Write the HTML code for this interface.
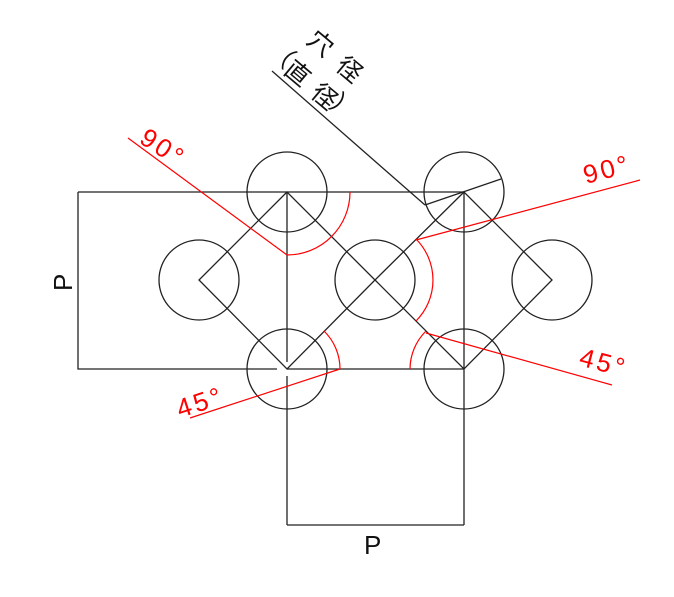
<!DOCTYPE html>
<html><head><meta charset="utf-8"><style>html,body{margin:0;padding:0;background:#fff}svg{display:block}</style></head>
<body>
<svg width="674" height="597" viewBox="0 0 674 597" xmlns="http://www.w3.org/2000/svg">
<g fill="none" stroke="#222" stroke-width="1.3">
<circle cx="287" cy="192" r="40"/>
<circle cx="464" cy="192" r="40"/>
<circle cx="199" cy="280" r="40"/>
<circle cx="375" cy="280" r="40"/>
<circle cx="552" cy="280" r="40"/>
<circle cx="287" cy="369" r="40"/>
<circle cx="464" cy="369" r="40"/>
<polyline points="78,192 464,192"/>
<polyline points="78,192 78,369 277,369"/>
<line x1="287" y1="369" x2="464" y2="369"/>
<line x1="287" y1="192" x2="287" y2="362"/>
<line x1="287" y1="376" x2="287" y2="525"/>
<line x1="464" y1="192" x2="464" y2="525"/>
<line x1="287" y1="525" x2="464" y2="525"/>
<polygon points="287,192 199,280 287,369 375,280"/>
<polygon points="464,192 375,280 464,369 552,280"/>
<line x1="425" y1="205" x2="501" y2="179"/>
<line x1="272" y1="71" x2="425" y2="205"/>
</g>
<g fill="none" stroke="#f00" stroke-width="1.2">
<line x1="128" y1="138" x2="287" y2="255"/>
<path d="M287,255 A63,63 0 0 0 350,192"/>
<path d="M416,239 A58,58 0 0 1 416,321"/>
<line x1="416" y1="240" x2="640" y2="180"/>
<path d="M340,369 A53,53 0 0 0 324,331"/>
<line x1="340" y1="369" x2="190" y2="418"/>
<path d="M410,369 A54,54 0 0 1 426,331"/>
<line x1="426" y1="333" x2="612" y2="385"/>
</g>
<g fill="#f00" font-family="Liberation Sans, sans-serif" font-size="26" letter-spacing="3">
<text transform="translate(138,142) rotate(33)">90°</text>
<text transform="translate(586,184) rotate(-15)">90°</text>
<text transform="translate(180,418) rotate(-18)">45°</text>
<text transform="translate(578,365) rotate(15)">45°</text>
</g>
<g fill="#111" font-family="Liberation Sans, sans-serif" font-size="26">
<text transform="translate(72,291) rotate(-90)">P</text>
<text x="364" y="554">P</text>
</g>
<g fill="#111" font-family="Liberation Sans, 'Noto Sans CJK JP', sans-serif" font-size="25" text-anchor="middle" dominant-baseline="central">
<text transform="translate(320,44) rotate(40)">穴</text>
<text transform="translate(349,70) rotate(40)">径</text>
<text transform="translate(281,55) rotate(40)">（</text>
<text transform="translate(297,74) rotate(40)">直</text>
<text transform="translate(324,97) rotate(40)">径</text>
<text transform="translate(343,108) rotate(40)">）</text>
</g>
</svg>
</body></html>
